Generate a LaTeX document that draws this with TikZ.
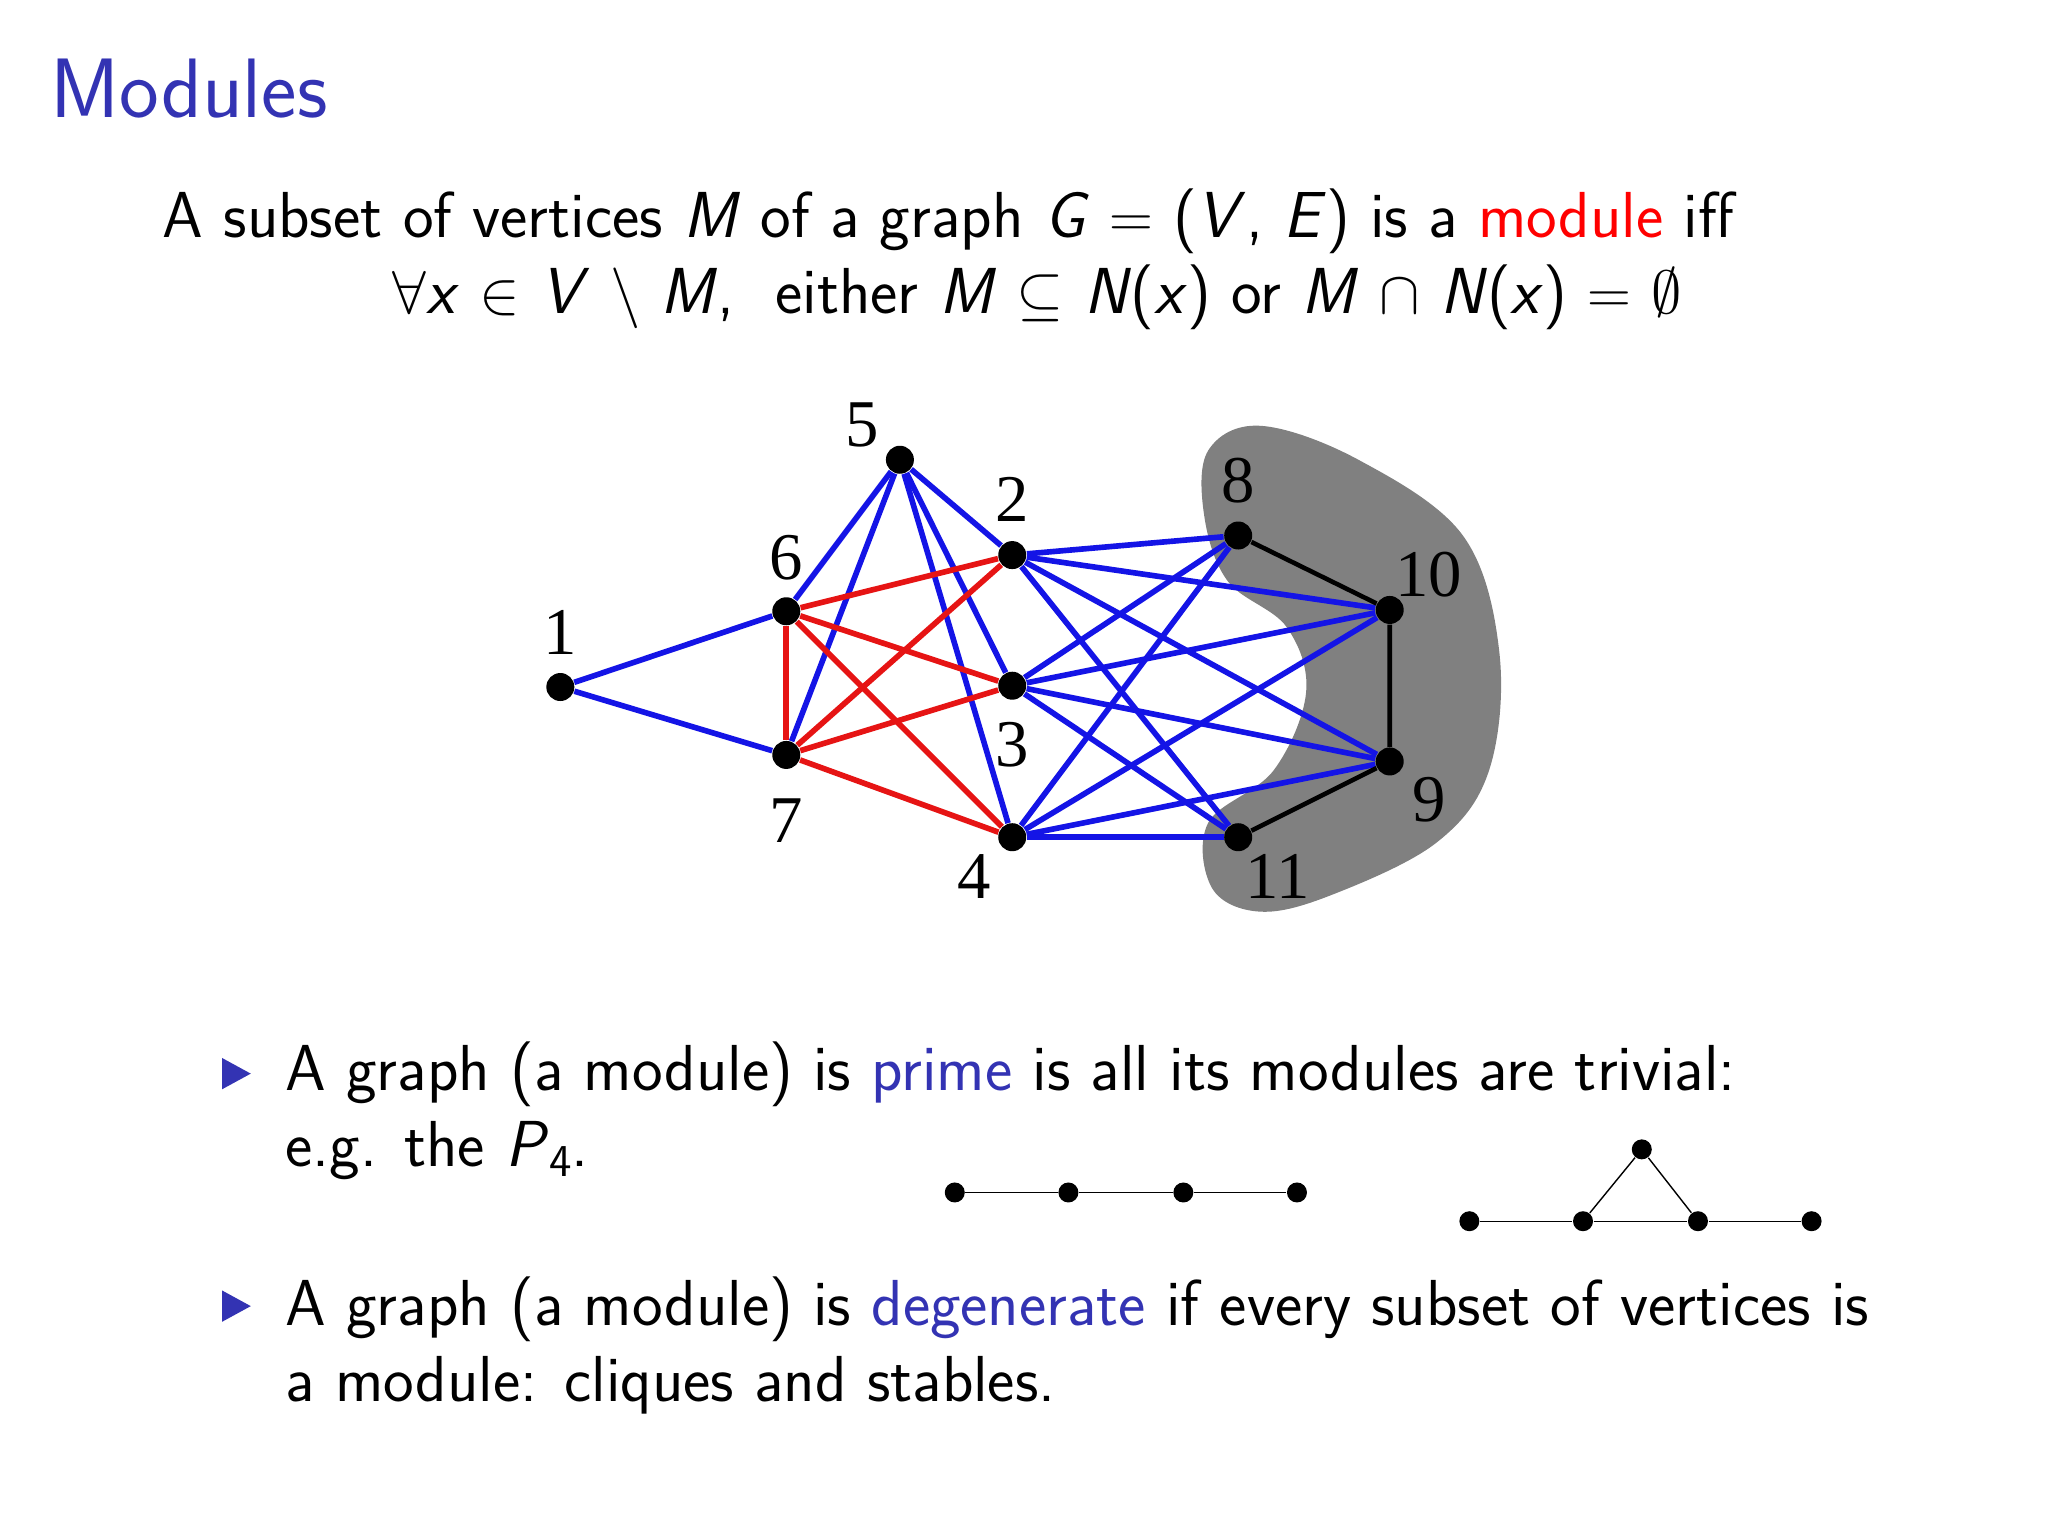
\documentclass[tikz,border=0pt]{standalone}
\usepackage{fontspec}
\usepackage{amssymb}
\newfontfamily\numfont{Liberation Serif}
\definecolor{bblue}{RGB}{51,51,179}
\definecolor{gblue}{RGB}{20,20,230}
\definecolor{gred}{RGB}{230,20,20}
\newcommand{\sv}[1]{\textsf{\textit{#1}}}
\begin{document}
\begin{tikzpicture}[x=0.013061cm,y=-0.013061cm,
  vtx/.style={circle,fill=black,inner sep=0pt,minimum size=0.28cm},
  svtx/.style={circle,fill=black,inner sep=0pt,minimum size=0.2cm},
  lab/.style={font=\numfont\fontsize{19}{22}\selectfont},
  txt/.style={anchor=base west,inner sep=0pt,font=\sffamily\fontsize{18.5}{22}\selectfont},
  be/.style={gblue,line width=1.6pt},
  re/.style={gred,line width=1.6pt},
  ke/.style={black,line width=1.3pt}]
\useasboundingbox (0,0) rectangle (1568,1176);
\fill[white] (0,0) rectangle (1568,1176);
\node[anchor=base west,inner sep=0pt,text=bblue,font=\sffamily\fontsize{24}{28}\selectfont] (title) at (38,90) {Modules};
\node[txt] (l1) at (124,182) {A subset of vertices \sv{M} of a graph \sv{G} $=$ (\sv{V}, \sv{E}) is a \textcolor{red}{module} iff};
\node[txt] (l2) at (300,240) {$\forall$\sv{x} $\in$ \sv{V} $\setminus$ \sv{M}, \ either \sv{M} $\subseteq$ \sv{N}(\sv{x}) or \sv{M} $\cap$ \sv{N}(\sv{x}) $=$ $\emptyset$};
% blob
\fill[black!50] plot[smooth cycle,tension=0.6] coordinates {(925,345) (965,326) (1040,352) (1120,410) (1148,500) (1140,590) (1100,645) (1020,685) (965,698) (928,680) (925,630) (975,590) (1000,530) (985,480) (940,445) (922,395)};
\foreach \n/\x/\y in {1/429/526,5/689/352,2/775/425,6/602/468,3/775/525,7/602/578,4/775/641,8/948/410,10/1064/467,9/1064/583,11/948/641}
  \node[vtx] (v\n) at (\x,\y) {};
\foreach \a/\b in {1/6,1/7,5/6,5/7,5/2,5/3,5/4,2/8,2/10,2/9,2/11,3/8,3/10,3/9,3/11,4/8,4/10,4/9,4/11}
  \draw[be] (v\a) -- (v\b);
\foreach \a/\b in {6/2,6/3,6/4,6/7,7/2,7/3,7/4}
  \draw[re] (v\a) -- (v\b);
\draw[ke] (v8) -- (v10) -- (v9) -- (v11);
\foreach \n/\x/\y in {5/660/325,2/775/382,6/602/427,1/429/484,3/775/570,7/602/628,4/746/671,8/948/368,10/1094/440,9/1094/612,11/978/671}
  \node[lab] (t\n) at (\x,\y) {\n};
% bullets
\fill[bblue] (170,810) -- (192,822) -- (170,834) -- cycle;
\fill[bblue] (170,988) -- (192,1000) -- (170,1012) -- cycle;
\node[txt] (b1) at (218,835) {A graph (a module) is \textcolor{bblue}{prime} is all its modules are trivial:};
\node[txt] (b1b) at (218,893) {e.g. the \sv{P}\textsf{\raisebox{-0.35ex}{\fontsize{13}{15}\selectfont 4}}.};
\node[txt] (b2) at (218,1015) {A graph (a module) is \textcolor{bblue}{degenerate} if every subset of vertices is};
\node[txt] (b2b) at (218,1073) {a module: cliques and stables.};
% P4
\node[svtx] (p1) at (731,913) {};
\node[svtx] (p2) at (818,913) {};
\node[svtx] (p3) at (906,913) {};
\node[svtx] (p4) at (993,913) {};
\draw (p1) -- (p2) -- (p3) -- (p4);
\node[svtx] (q1) at (1125,935) {};
\node[svtx] (q2) at (1212,935) {};
\node[svtx] (q3) at (1300,935) {};
\node[svtx] (q4) at (1387,935) {};
\node[svtx] (q5) at (1257,880) {};
\draw (q1) -- (q2) -- (q3) -- (q4);
\draw (q2) -- (q5) -- (q3);
\end{tikzpicture}
\end{document}
